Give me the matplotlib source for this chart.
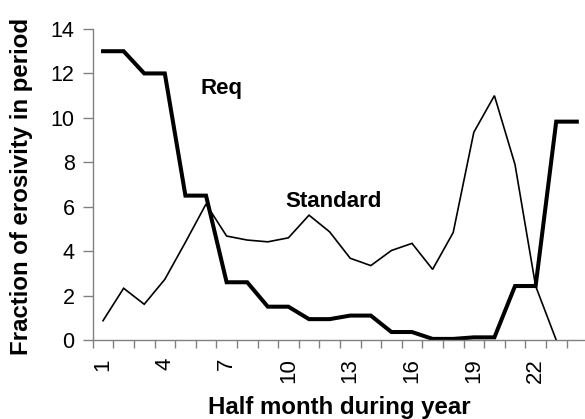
import numpy as np
import matplotlib
matplotlib.use("Agg")
import matplotlib.pyplot as plt

plt.rcParams['font.family'] = ['Liberation Sans', 'DejaVu Sans']

half_months = list(range(1, 25))
req = [13.0, 13.0, 12.0, 12.0, 6.5, 6.5, 2.6, 2.6, 1.5, 1.5, 0.94, 0.94,
       1.1, 1.1, 0.36, 0.36, 0.05, 0.05, 0.12, 0.12, 2.43, 2.43, 9.83, 9.83]
standard = [0.87, 2.33, 1.61, 2.73, 4.4, 6.12, 4.68, 4.5, 4.42, 4.6, 5.62, 4.87,
            3.68, 3.35, 4.03, 4.35, 3.18, 4.84, 9.35, 11.0, 7.9, 2.43, 0.0, np.nan]
tick_labels = ['1', '4', '7', '10', '13', '16', '19', '22']

W, H = 585, 419
fig = plt.figure(figsize=(W / 100, H / 100), dpi=100)
ax = fig.add_axes([0.1585, 0.1885, 0.8451, 0.7423])

ax.plot(half_months, standard, color='black', lw=1.2, solid_joinstyle='miter')
ax.plot(half_months, req, color='black', lw=2.9, solid_joinstyle='miter')

ax.set_xlim(0.5, 24.5)
ax.set_ylim(0, 14)
ax.set_yticks(np.arange(0, 15, 2))
# category boundaries carry the tick marks, labels sit at every third category
ax.set_xticks(np.arange(0.5, 25, 1), minor=False)
ax.set_xticklabels([])
ax.set_xticks([int(t) for t in tick_labels], minor=True)
ax.set_xticklabels(tick_labels, minor=True, rotation=90, fontsize=16)
ax.tick_params(axis='x', which='minor', length=0, pad=13)
ax.tick_params(axis='x', which='major', direction='out', length=6, width=1, color='#808080')
ax.tick_params(axis='y', direction='out', length=7, width=1, color='#808080', labelsize=15.5, pad=6)

for side in ('top', 'right'):
    ax.spines[side].set_visible(False)
for side in ('left', 'bottom'):
    ax.spines[side].set_color('#808080')
    ax.spines[side].set_linewidth(1)

ax.text(6.73, 11.3, 'Req', fontsize=16, fontweight='bold', ha='center', va='center')
ax.text(12.21, 6.25, 'Standard', fontsize=16, fontweight='bold', ha='center', va='center')

fig.text(339 / W, 5.5 / H, 'Half month during year', fontsize=17.3,
         fontweight='bold', ha='center', va='baseline')
fig.text(22 / W, 1 - 186 / H, 'Fraction of erosivity in period', fontsize=17.3,
         fontweight='bold', ha='center', va='center', rotation=90)

fig.savefig('out.png', dpi=100)
